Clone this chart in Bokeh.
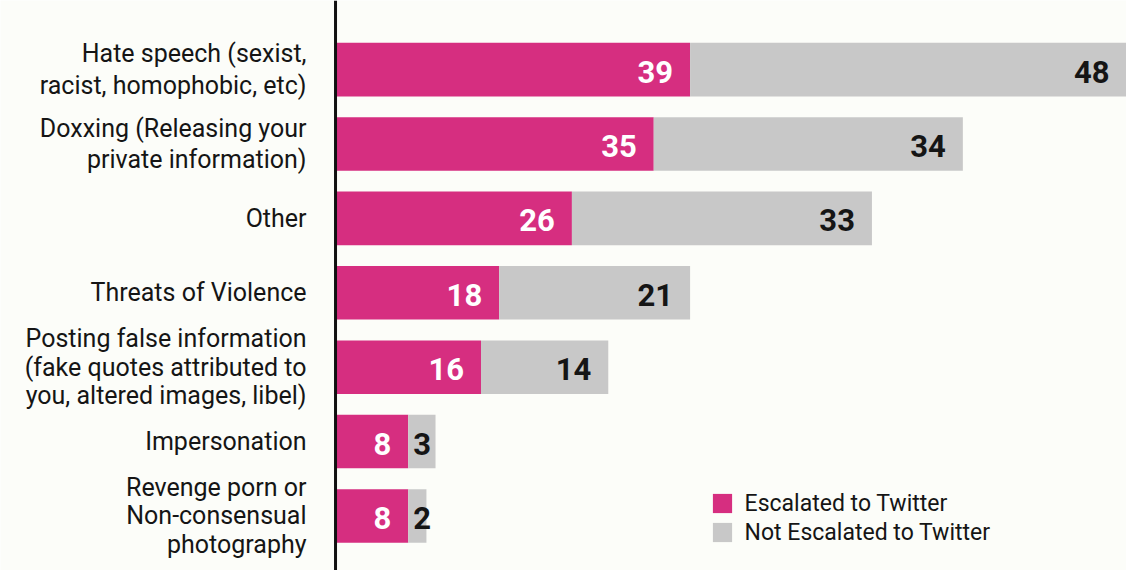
from bokeh.plotting import figure
from bokeh.models import ColumnDataSource, Range1d, Span, Legend, LegendItem
from bokeh.core.properties import value
from bokeh.embed import file_html
from bokeh.resources import INLINE

categories = [
    "Hate speech (sexist,\nracist, homophobic, etc)",
    "Doxxing (Releasing your\nprivate information)",
    "Other",
    "Threats of Violence",
    "Posting false information\n(fake quotes attributed to\nyou, altered images, libel)",
    "Impersonation",
    "Revenge porn or\nNon-consensual\nphotography",
]
escalated = [39, 35, 26, 18, 16, 8, 8]
not_escalated = [48, 34, 33, 21, 14, 3, 2]
legend_labels = ["Escalated to Twitter", "Not Escalated to Twitter"]

PINK = "#D62E80"
GRAY = "#C8C8C8"
BG = "#FCFDF9"
DARK = "#151515"
FONT = "Roboto"

n = len(categories)
ys = list(range(n))
totals = [e + m for e, m in zip(escalated, not_escalated)]
small = [m < 5 for m in not_escalated]

src = ColumnDataSource(dict(
    y=ys, esc=escalated, notesc=not_escalated, total=totals,
    esc_lbl=[str(v) for v in escalated],
    not_lbl=[str(v) for v in not_escalated],
    gx=[e if s else t for e, t, s in zip(escalated, totals, small)],
    galign=["left" if s else "right" for s in small],
    goff=[5 if s else -17 for s in small],
))

two = [i for i, c in enumerate(categories) if c.count("\n") < 2]
three = [i for i, c in enumerate(categories) if c.count("\n") >= 2]
src_two = ColumnDataSource(dict(y=[ys[i] for i in two], cat=[categories[i] for i in two]))
src_three = ColumnDataSource(dict(y=[ys[i] for i in three], cat=[categories[i] for i in three]))

W, H = 1126, 570
p = figure(width=W, height=H, output_backend="svg", toolbar_location=None,
           x_range=Range1d(-36.85, 87), y_range=Range1d(6.733, -0.929),
           min_border=0, min_border_left=0, min_border_right=0,
           min_border_top=0, min_border_bottom=0)
p.axis.visible = False
p.grid.visible = False
p.outline_line_color = None
p.background_fill_color = BG
p.border_fill_color = BG

r1 = p.hbar(y="y", left=0, right="esc", height=0.72, source=src,
            fill_color=PINK, line_color=None)
r2 = p.hbar(y="y", left="esc", right="total", height=0.72, source=src,
            fill_color=GRAY, line_color=None)

p.add_layout(Span(location=0, dimension="height", line_color="#111111", line_width=3))

for s, lh in ((src_two, 1.1), (src_three, 0.98)):
    p.text(x=0, y="y", text="cat", source=s, x_offset=-29,
           text_align="right", text_baseline="middle",
           text_font=value(FONT), text_font_size="25px", text_color=DARK,
           text_line_height=lh)

p.text(x="esc", y="y", text="esc_lbl", source=src, x_offset=-17, y_offset=2,
       text_align="right", text_baseline="middle",
       text_font=value(FONT), text_font_size="31px", text_font_style="bold",
       text_color="white")

p.text(x="gx", y="y", text="not_lbl", source=src, x_offset="goff", y_offset=2,
       text_align="galign", text_baseline="middle",
       text_font=value(FONT), text_font_size="31px", text_font_style="bold",
       text_color=DARK)

legend = Legend(items=[LegendItem(label=legend_labels[0], renderers=[r1]),
                       LegendItem(label=legend_labels[1], renderers=[r2])],
                location=(709.6, 24.5), orientation="vertical",
                glyph_width=24, glyph_height=24, label_height=20,
                spacing=2, padding=0, margin=0, label_standoff=11,
                label_text_font=FONT, label_text_font_size="23px",
                label_text_color=DARK,
                border_line_color=None, background_fill_alpha=0)
p.add_layout(legend)

open("out.html", "w").write(file_html(p, INLINE))
